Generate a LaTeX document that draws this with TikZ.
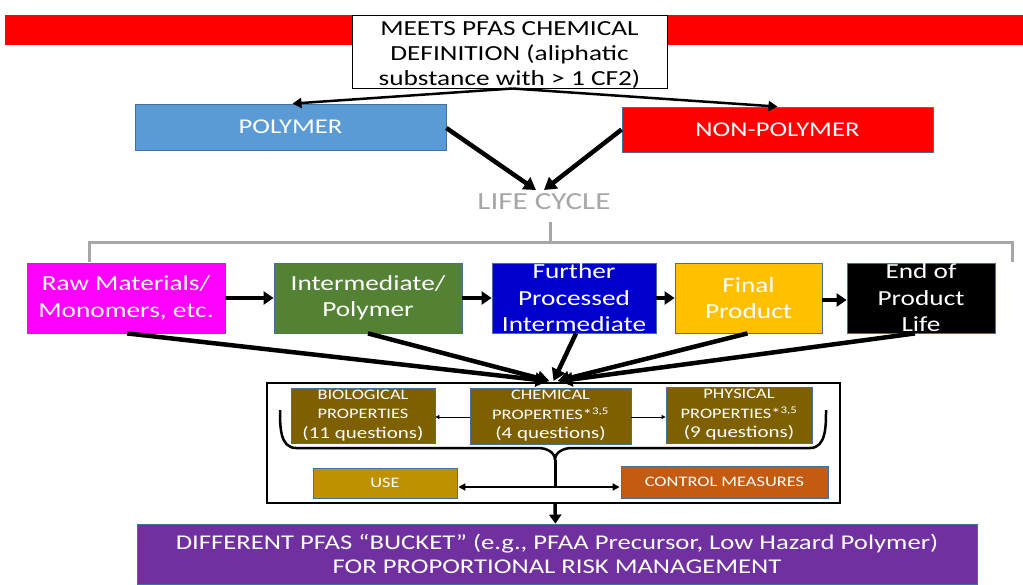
\documentclass[tikz,border=0pt]{standalone}
\usepackage{fontspec}
\setmainfont{Carlito}[FakeStretch=1.27]
\usetikzlibrary{arrows.meta,calc}
\definecolor{polyblue}{HTML}{5B9BD5}
\definecolor{edgeblue}{HTML}{41719C}
\definecolor{boxred}{HTML}{FF0000}
\definecolor{magent}{HTML}{FF00FF}
\definecolor{grn}{HTML}{548235}
\definecolor{dblue}{HTML}{0000CC}
\definecolor{gold}{HTML}{FFC000}
\definecolor{brn}{HTML}{7F6000}
\definecolor{usecol}{HTML}{BF9000}
\definecolor{ctrlcol}{HTML}{C55A11}
\definecolor{purp}{HTML}{7030A0}
\definecolor{lcgray}{HTML}{A6A6A6}
\tikzset{
  cbox/.style={draw=edgeblue, line width=0.8pt, inner sep=0pt, align=center, text=white},
  bigtxt/.style={font=\fontsize{21.5}{26.5}\selectfont},
  midtxt/.style={font=\fontsize{21}{25}\selectfont},
  smalltxt/.style={font=\fontsize{14.5}{19.5}\selectfont},
  thickarr/.style={line width=4.5pt, -{Triangle[length=12pt,width=14pt]}},
  thinarr/.style={line width=0.8pt, -{Triangle[length=4pt,width=4pt]}},
}
\newcommand{\qfont}{\fontsize{16.5}{19.5}\selectfont}
\begin{document}
\begin{tikzpicture}[x=1pt,y=-1pt]
\useasboundingbox (0,0) rectangle (1023,584);
% red banner
\fill[boxred] (5,15) rectangle (1023,45);
% top box
\node[draw=black, fill=white, line width=1pt, inner sep=0pt, minimum width=315pt, minimum height=73pt] (top) at (509.5,51.5) {};
\node[align=center, inner sep=0pt, font=\fontsize{21.5}{25}\selectfont] (toptext) at ($(top.center)+(0,3.5)$)
  {MEETS PFAS CHEMICAL\\DEFINITION (aliphatic\\substance with > 1 CF2)};
\node[cbox, fill=polyblue, minimum width=311pt, minimum height=46pt, midtxt] (poly) at (290.5,127) {POLYMER};
\node[cbox, fill=boxred, minimum width=311pt, minimum height=45pt, midtxt] (nonpoly) at (777.5,129.5) {NON-POLYMER};
\coordinate (topsplit) at ($(top.south)+(3,0)$);
\draw[line width=2.5pt, -{Triangle[length=9pt,width=10pt]}] (topsplit) -- ($(poly.north)+(2,0)$);
\draw[line width=2.5pt, -{Triangle[length=9pt,width=10pt]}] (topsplit) -- ($(nonpoly.north)+(0,0)$);
% life cycle
\node[text=lcgray, font=\fontsize{24.5}{28}\selectfont, inner sep=0pt] (lc) at (544,202) {LIFE CYCLE};
\draw[thickarr] ($(poly.east)+(0,1)$) -- (536,190);
\draw[thickarr] ($(nonpoly.west)+(0,0)$) -- (544,190);
% gray bracket
\coordinate (brtop) at (550,222);
\coordinate (brmid) at (550,242);
\coordinate (brl) at (89,242);
\coordinate (brr) at (1012,242);
\draw[lcgray, line width=3pt] (brtop) -- (brmid);
\draw[lcgray, line width=3pt] (89,262) -- (brl) -- (brr) -- (1012,262);
% lifecycle boxes
\node[cbox, fill=magent, minimum width=198pt, minimum height=70pt, bigtxt] (raw) at (126,298) {Raw Materials/\\Monomers, etc.};
\node[cbox, fill=grn, minimum width=188pt, minimum height=70pt, bigtxt] (inter) at (368,298) {Intermediate/\\Polymer};
\node[cbox, fill=dblue, minimum width=164pt, minimum height=70pt, bigtxt] (further) at (574,298) {Further\\Processed\\Intermediate};
\node[cbox, fill=gold, minimum width=147pt, minimum height=70pt, bigtxt] (final) at (748.5,298) {Final\\Product};
\node[cbox, fill=black, minimum width=148pt, minimum height=70pt, bigtxt] (eol) at (921,298) {End of\\Product\\Life};
\draw[line width=4.5pt, -{Triangle[length=10pt,width=13pt]}] (raw.east) -- (inter.west);
\draw[line width=4.5pt, -{Triangle[length=10pt,width=13pt]}] (inter.east) -- (further.west);
\draw[line width=4.5pt, -{Triangle[length=10pt,width=13pt]}] (further.east) -- (final.west);
\draw[line width=4.5pt, -{Triangle[length=10pt,width=13pt]}] ($(final.east)+(0,2)$) -- ($(eol.west)+(0,2)$);
% frame
\node[draw=black, line width=2pt, minimum width=573pt, minimum height=120pt, inner sep=0pt] (frame) at (553.5,443) {};
\coordinate (conv) at ($(frame.north)+(0,-1)$);
\draw[thickarr] ($(raw.south)+(1,0)$) -- ($(conv)+(-6,0)$);
\draw[thickarr] ($(inter.south)+(0,0)$) -- ($(conv)+(-4,0)$);
\draw[thickarr] ($(further.south)+(2,0)$) -- ($(conv)+(0,0)$);
\draw[thickarr] ($(final.south)+(-1,0)$) -- ($(conv)+(4,0)$);
\draw[thickarr] ($(eol.south)+(-6,0)$) -- ($(conv)+(7,0)$);
% property boxes
\node[cbox, fill=brn, minimum width=144pt, minimum height=55pt, smalltxt] (bio) at (363,415.5) {BIOLOGICAL\\PROPERTIES\\{\qfont(11 questions)}};
\node[cbox, fill=brn, minimum width=161pt, minimum height=56pt, smalltxt] (chem) at (550.5,416) {CHEMICAL\\PROPERTIES*\textsuperscript{3,5}\\{\qfont(4 questions)}};
\node[cbox, fill=brn, minimum width=146pt, minimum height=56pt, smalltxt] (phys) at (739,415) {PHYSICAL\\PROPERTIES*\textsuperscript{3,5}\\{\qfont(9 questions)}};
\draw[thinarr] ($(chem.west)+(0,1)$) -- ($(bio.east)+(0,1.5)$);
\draw[thinarr] ($(chem.east)+(0,1)$) -- ($(phys.west)+(0,2)$);
% brace
\coordinate (bracetip) at (555,460);
\draw[line width=2.5pt] (280,410) to[out=-90,in=180] (296,448) -- (538,448) to[out=0,in=90] (bracetip);
\draw[line width=2.5pt] (bracetip) to[out=90,in=180] (572,448) -- (810,448) to[out=0,in=-90] (826,410);
\coordinate (hub) at (555,487);
\draw[line width=3pt] (bracetip) -- (hub);
% use & control
\node[cbox, fill=usecol, minimum width=144pt, minimum height=30pt, smalltxt] (use) at (385,483) {USE};
\node[cbox, fill=ctrlcol, minimum width=207pt, minimum height=32pt, smalltxt] (ctrl) at (724.5,482) {CONTROL MEASURES};
\draw[line width=2pt, {Triangle[length=7pt,width=7pt]}-{Triangle[length=7pt,width=7pt]}] ($(use.east)+(1,4)$) -- ($(ctrl.west)+(-1,5)$);
% bucket
\node[cbox, fill=purp, minimum width=840pt, minimum height=60pt, font=\fontsize{21}{24}\selectfont] (bucket) at (557,554) {DIFFERENT PFAS “BUCKET” (e.g., PFAA Precursor, Low Hazard Polymer)\\FOR PROPORTIONAL RISK MANAGEMENT};
\draw[line width=3.5pt, -{Triangle[length=9pt,width=12pt]}] ($(frame.south)+(1.5,0)$) -- ($(bucket.north)+(-1.5,0)$);
\end{tikzpicture}
\end{document}
